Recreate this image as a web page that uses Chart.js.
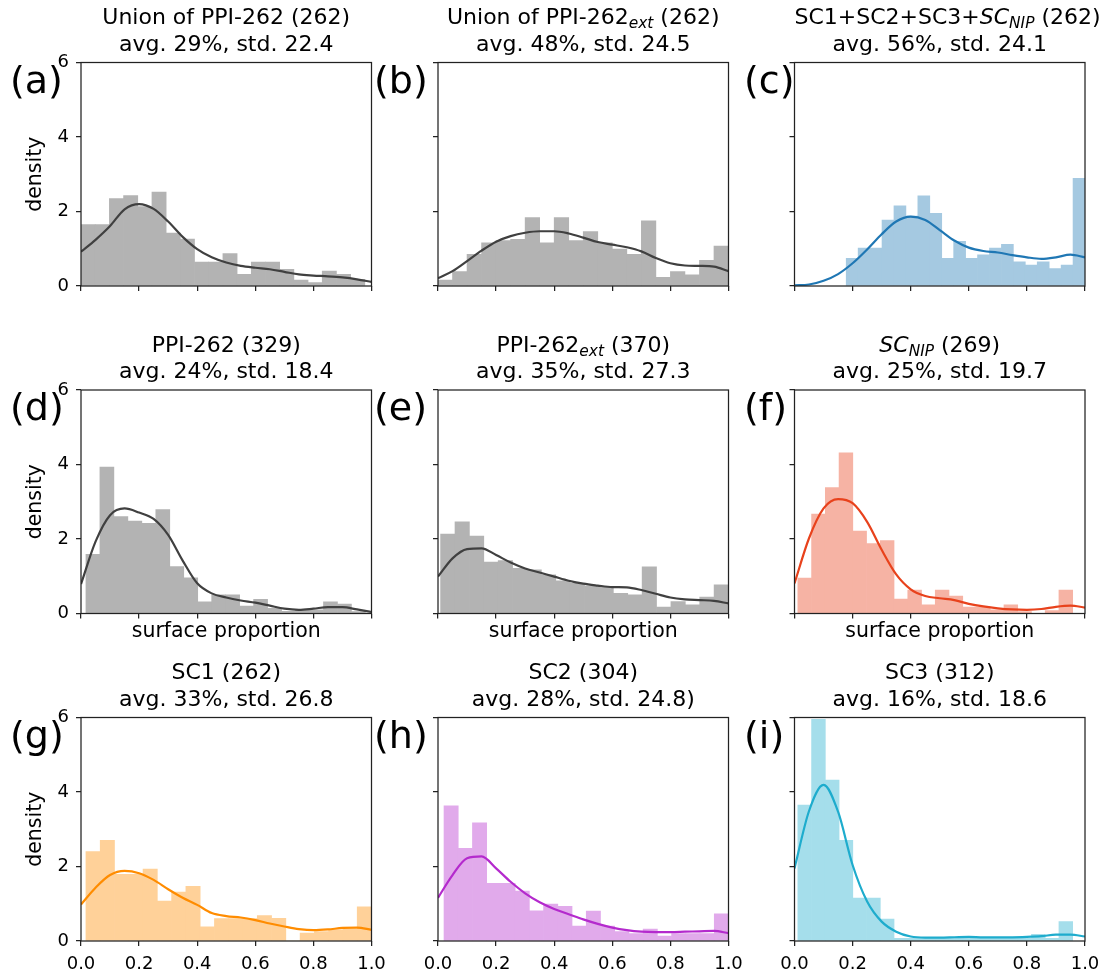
<!DOCTYPE html>
<html>
<head>
<meta charset="utf-8">
<title>Surface proportion distributions</title>
<script src="https://cdn.jsdelivr.net/npm/chart.js@4.4.1/dist/chart.umd.min.js"></script>
<style>
  html, body { margin: 0; padding: 0; background: #fff; }
  #fig { position: relative; width: 1106px; height: 976px; overflow: hidden;
         font-family: 'DejaVu Sans', sans-serif; color: #000; }
  #fig canvas { position: absolute; }
  .ttl { position: absolute; text-align: center; font-size: 22px; line-height: 26.4px; white-space: nowrap; }
  .ttl sub { font-size: 15.4px; line-height: 0; vertical-align: -4px; font-style: italic; }
  .tag { position: absolute; font-size: 38px; line-height: 38px; white-space: nowrap; }
</style>
</head>
<body>
<div id="fig"></div>
<script>
// ---- data -------------------------------------------------------------
const xTickLabels = ['0.0', '0.2', '0.4', '0.6', '0.8', '1.0'];
const yTickLabels = ['0', '2', '4', '6'];

// x positions at which the density estimates are given
const kdeX = [0, 0.05, 0.1, 0.15, 0.2, 0.25, 0.3, 0.35, 0.4, 0.45, 0.5,
              0.55, 0.6, 0.65, 0.7, 0.75, 0.8, 0.85, 0.9, 0.95, 1.0];

// (a) Union of PPI-262
const aRange   = [0, 0.977];
const aDensity = [1.65, 1.65, 2.35, 2.43, 2.13, 2.52, 1.42, 1.26, 0.64, 0.64,
                  0.87, 0.31, 0.64, 0.64, 0.45, 0.16, 0.09, 0.40, 0.31, 0.18];
const aKde     = [0.92, 1.24, 1.61, 2.06, 2.20, 2.07, 1.73, 1.32, 0.99, 0.77, 0.63,
                  0.54, 0.49, 0.45, 0.38, 0.31, 0.28, 0.26, 0.23, 0.18, 0.11];

// (b) Union of PPI-262ext
const bRange   = [0, 1.0];
const bDensity = [0.16, 0.39, 0.85, 1.16, 1.22, 1.25, 1.84, 1.16, 1.84, 1.22,
                  1.46, 1.16, 0.99, 0.85, 1.75, 0.23, 0.39, 0.30, 0.69, 1.07];
const bKde     = [0.21, 0.40, 0.67, 0.95, 1.19, 1.34, 1.43, 1.47, 1.47, 1.41, 1.30,
                  1.18, 1.11, 1.04, 0.93, 0.75, 0.61, 0.55, 0.54, 0.52, 0.40];

// (c) SC1+SC2+SC3+SC_NIP
const cRange   = [0.178, 1.0];
const cDensity = [0.74, 1.02, 1.02, 1.77, 2.15, 1.88, 2.42, 1.95, 0.74, 1.20,
                  0.74, 0.84, 1.02, 1.12, 0.65, 0.56, 0.65, 0.47, 0.56, 2.89];
const cKde     = [0.02, 0.04, 0.14, 0.32, 0.61, 0.98, 1.39, 1.73, 1.86, 1.77, 1.50,
                  1.22, 1.03, 0.94, 0.90, 0.83, 0.77, 0.73, 0.77, 0.84, 0.77];

// (d) PPI-262
const dRange   = [0.017, 0.979];
const dDensity = [1.59, 3.93, 2.60, 2.48, 2.42, 2.79, 1.26, 0.96, 0.31, 0.50,
                  0.50, 0.20, 0.38, 0.14, 0.06, 0.10, 0.10, 0.31, 0.25, 0.05];
const dKde     = [0.79, 1.93, 2.64, 2.82, 2.71, 2.54, 2.11, 1.42, 0.81, 0.54, 0.43,
                  0.35, 0.29, 0.21, 0.13, 0.10, 0.13, 0.17, 0.17, 0.11, 0.04];

// (e) PPI-262ext
const eRange   = [0.009, 1.0];
const eDensity = [2.13, 2.46, 2.08, 1.38, 1.42, 1.21, 1.17, 1.04, 0.88, 0.81,
                  0.74, 0.71, 0.54, 0.50, 1.25, 0.17, 0.32, 0.23, 0.44, 0.77];
const eKde     = [0.99, 1.48, 1.73, 1.75, 1.57, 1.37, 1.21, 1.10, 0.99, 0.88, 0.80,
                  0.75, 0.71, 0.70, 0.63, 0.53, 0.43, 0.38, 0.36, 0.34, 0.27];

// (f) SC_NIP
const fRange   = [0.0115, 0.9576];
const fDensity = [0.95, 2.67, 3.38, 4.31, 2.21, 1.88, 1.96, 0.39, 0.63, 0.23,
                  0.63, 0.47, 0.17, 0.17, 0.10, 0.23, 0.05, 0.00, 0.08, 0.63];
const fKde     = [0.81, 2.02, 2.82, 3.07, 2.96, 2.46, 1.71, 1.05, 0.65, 0.47, 0.41,
                  0.36, 0.26, 0.19, 0.14, 0.11, 0.10, 0.12, 0.18, 0.21, 0.16];

// (g) SC1
const gRange   = [0.017, 1.0];
const gDensity = [2.40, 2.70, 1.79, 1.79, 1.93, 1.07, 1.31, 1.47, 0.38, 0.60,
                  0.60, 0.60, 0.68, 0.61, 0.00, 0.21, 0.25, 0.30, 0.32, 0.92];
const gKde     = [0.98, 1.43, 1.77, 1.88, 1.82, 1.64, 1.39, 1.16, 0.97, 0.75, 0.67,
                  0.63, 0.56, 0.47, 0.39, 0.32, 0.29, 0.31, 0.35, 0.36, 0.30];

// (h) SC2
const hRange   = [0.0207, 1.0];
const hDensity = [3.63, 2.49, 3.17, 1.55, 1.55, 1.34, 0.81, 0.99, 0.93, 0.40,
                  0.80, 0.40, 0.25, 0.20, 0.32, 0.13, 0.20, 0.20, 0.20, 0.73];
const hKde     = [1.16, 1.77, 2.22, 2.27, 1.95, 1.59, 1.28, 1.04, 0.86, 0.72, 0.58,
                  0.46, 0.36, 0.29, 0.25, 0.24, 0.24, 0.25, 0.26, 0.27, 0.21];

// (i) SC3
const iRange   = [0.0115, 0.9576];
const iDensity = [3.65, 5.95, 4.32, 2.70, 1.15, 1.15, 0.59, 0.07, 0.07, 0.07,
                  0.07, 0.07, 0.07, 0.07, 0.07, 0.07, 0.07, 0.18, 0.07, 0.52];
const iKde     = [1.95, 3.49, 4.19, 3.47, 2.04, 1.06, 0.52, 0.25, 0.12, 0.09, 0.09,
                  0.10, 0.11, 0.10, 0.10, 0.10, 0.11, 0.13, 0.17, 0.17, 0.12];

// ---- panels -----------------------------------------------------------
const GREY = [64, 64, 64];
const panels = [
  { tag: '(a)', title: ['Union of PPI-262 (262)', 'avg. 29%, std. 22.4'],
    range: aRange, density: aDensity, kde: aKde, color: GREY },
  { tag: '(b)', title: ['Union of PPI-262<sub>ext</sub> (262)', 'avg. 48%, std. 24.5'],
    range: bRange, density: bDensity, kde: bKde, color: GREY },
  { tag: '(c)', title: ['SC1+SC2+SC3+<i>SC</i><sub>NIP</sub> (262)', 'avg. 56%, std. 24.1'],
    range: cRange, density: cDensity, kde: cKde, color: [31, 119, 180] },
  { tag: '(d)', title: ['PPI-262 (329)', 'avg. 24%, std. 18.4'],
    range: dRange, density: dDensity, kde: dKde, color: GREY },
  { tag: '(e)', title: ['PPI-262<sub>ext</sub> (370)', 'avg. 35%, std. 27.3'],
    range: eRange, density: eDensity, kde: eKde, color: GREY },
  { tag: '(f)', title: ['<i>SC</i><sub>NIP</sub> (269)', 'avg. 25%, std. 19.7'],
    range: fRange, density: fDensity, kde: fKde, color: [232, 66, 28] },
  { tag: '(g)', title: ['SC1 (262)', 'avg. 33%, std. 26.8'],
    range: gRange, density: gDensity, kde: gKde, color: [255, 140, 0] },
  { tag: '(h)', title: ['SC2 (304)', 'avg. 28%, std. 24.8)'],
    range: hRange, density: hDensity, kde: hKde, color: [180, 42, 205] },
  { tag: '(i)', title: ['SC3 (312)', 'avg. 16%, std. 18.6'],
    range: iRange, density: iDensity, kde: iKde, color: [30, 172, 205] }
];

// ---- layout -----------------------------------------------------------
const colLeft = [81, 438, 794.5];
const rowTop  = [62.5, 390, 717.5];
const plotW = 290.5, plotH = 223.5;
const tagLeft = [10, 374, 744];
const AXIS = '#222';
const FONT = "'DejaVu Sans', sans-serif";

Chart.defaults.font.family = FONT;
Chart.defaults.color = '#000';

const rgb = c => `rgb(${c[0]},${c[1]},${c[2]})`;
// histogram fill: the line colour at 40% over white
const tint = c => rgb(c.map(v => Math.round(v * 0.4 + 255 * 0.6)));

// four spines around the plotting area
const frame = {
  id: 'frame',
  afterDatasetsDraw(chart) {
    const { ctx, chartArea: a } = chart;
    ctx.save();
    ctx.strokeStyle = AXIS;
    ctx.lineWidth = 1.25;
    ctx.strokeRect(a.left, a.top, a.right - a.left, a.bottom - a.top);
    ctx.restore();
  }
};

// keep each axis box glued to the plotting area with a fixed thickness
const pinAxes = (yw, xh) => ({
  id: 'pinAxes',
  afterLayout(chart) {
    const a = chart.chartArea, x = chart.scales.x, y = chart.scales.y;
    y.left = a.left - yw; y.right = a.left; y.width = yw;
    y.top = a.top; y.bottom = a.bottom; y.height = a.bottom - a.top;
    x.top = a.bottom; x.bottom = a.bottom + xh; x.height = xh;
    x.left = a.left; x.right = a.right; x.width = a.right - a.left;
  }
});

// rotated y-axis caption, centred on the plotting area at a fixed distance
const yCaption = (text, dist) => ({
  id: 'yCaption',
  afterDraw(chart) {
    const { ctx, chartArea: a } = chart;
    ctx.save();
    ctx.translate(a.left - dist, (a.top + a.bottom) / 2);
    ctx.rotate(-Math.PI / 2);
    ctx.font = '20.5px ' + FONT;
    ctx.fillStyle = '#000';
    ctx.textAlign = 'center';
    ctx.textBaseline = 'middle';
    ctx.fillText(text, 0, 0);
    ctx.restore();
  }
});

const fig = document.getElementById('fig');

panels.forEach((p, k) => {
  const row = Math.floor(k / 3), col = k % 3;
  const left = colLeft[col], top = rowTop[row];

  // canvas box around the plotting area
  const yw = col === 0 ? 81 : left - Math.floor(left) + 26;
  const cx = Math.round(left - yw);
  const padTop = top - Math.floor(top) + 22;
  const cy = Math.floor(top) - 22;
  const xh = row === 0 ? 24 : 42;
  const cw = Math.ceil(yw + plotW + 26);
  const ch = Math.ceil(padTop + plotH + xh);
  const xhFit = ch - padTop - plotH;
  const padRight = cw - yw - plotW;

  const canvas = document.createElement('canvas');
  canvas.width = cw; canvas.height = ch;
  canvas.style.left = cx + 'px'; canvas.style.top = cy + 'px';
  canvas.style.width = cw + 'px'; canvas.style.height = ch + 'px';
  fig.appendChild(canvas);

  const n = p.density.length;
  const bw = (p.range[1] - p.range[0]) / n;
  const bars = p.density.map((d, i) => ({ x: p.range[0] + bw * (i + 0.5), y: d }));
  const curve = kdeX.map((x, i) => ({ x, y: p.kde[i] }));

  const tickGrid = { display: true, drawOnChartArea: false, drawTicks: true,
                     tickLength: 5, color: AXIS, lineWidth: 1.25, offset: false };

  const extra = [frame, pinAxes(yw, xhFit)];
  if (col === 0) extra.push(yCaption('density', 45));

  new Chart(canvas, {
    type: 'bar',
    data: {
      datasets: [
        { type: 'line', data: curve, borderColor: rgb(p.color), borderWidth: 2.2,
          pointRadius: 0, cubicInterpolationMode: 'monotone', fill: false, order: 0 },
        { type: 'bar', data: bars, backgroundColor: tint(p.color), borderWidth: 0,
          barPercentage: 1, categoryPercentage: 1, order: 1 }
      ]
    },
    options: {
      responsive: false, animation: false, devicePixelRatio: 1,
      layout: { padding: { left: 0, top: padTop, right: padRight, bottom: 0 } },
      plugins: { legend: { display: false }, tooltip: { enabled: false }, title: { display: false } },
      scales: {
        x: {
          type: 'linear', min: 0, max: 1, offset: false,
          ticks: { stepSize: 0.2, display: row === 2, padding: 7.5, font: { size: 18 },
                   color: '#000', autoSkip: false, maxRotation: 0,
                   callback: (v, i) => xTickLabels[i] },
          grid: tickGrid, border: { display: false },
          title: { display: row === 1, text: 'surface proportion', font: { size: 20.5 },
                   color: '#000', padding: { top: 0, bottom: 12.5 } },
          afterFit: s => { s.height = xhFit; }
        },
        y: {
          type: 'linear', min: 0, max: 6,
          ticks: { stepSize: 2, display: col === 0, padding: 7, font: { size: 18 },
                   color: '#000', callback: (v, i) => yTickLabels[i] },
          grid: tickGrid, border: { display: false },
          title: { display: false },
          afterFit: s => { s.width = yw; }
        }
      }
    },
    plugins: extra
  });

  // two-line panel title
  const t = document.createElement('div');
  t.className = 'ttl';
  t.style.left = left + 'px';
  t.style.width = plotW + 'px';
  t.style.top = (top - 58.2) + 'px';
  t.innerHTML = p.title.join('<br>');
  fig.appendChild(t);

  // panel letter
  const g = document.createElement('div');
  g.className = 'tag';
  g.style.left = tagLeft[col] + 'px';
  g.style.top = (top - 2) + 'px';
  g.textContent = p.tag;
  fig.appendChild(g);
});
</script>
</body>
</html>
